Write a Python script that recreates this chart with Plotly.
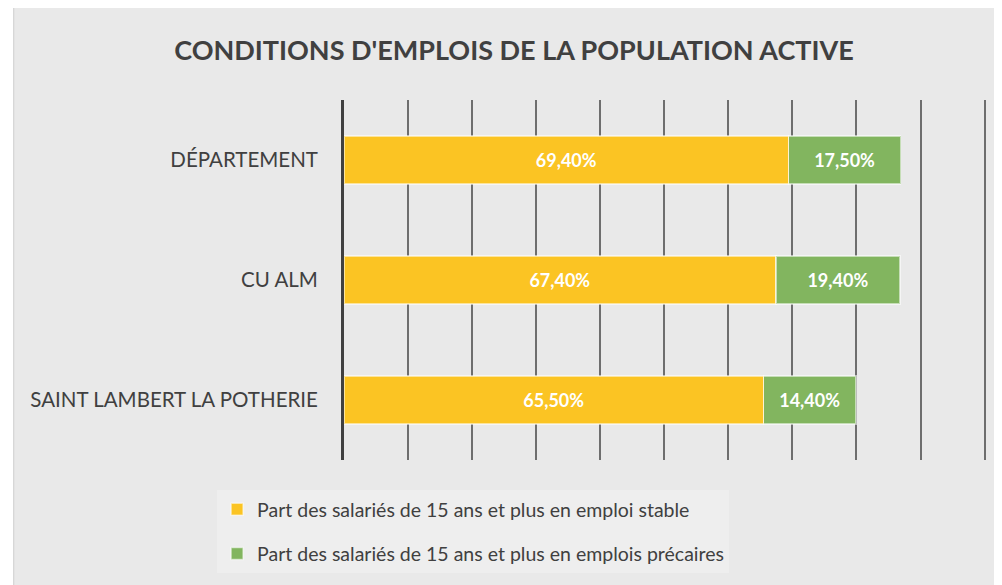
import plotly.graph_objects as go

categories = ["DÉPARTEMENT", "CU ALM", "SAINT LAMBERT LA POTHERIE"]
stable = [0.694, 0.674, 0.655]
precaires = [0.175, 0.194, 0.144]
series_names = ["Part des salariés de 15 ans et plus en emploi stable",
                "Part des salariés de 15 ans et plus en emplois précaires"]
colors = ["#FBC423", "#82B55F"]
title = "CONDITIONS D'EMPLOIS DE LA POPULATION ACTIVE"

FONT = "Lato"
BG = "#E9E9E9"
OFF = 8  # page body margin offset
XMAX = 1.01

fig = go.Figure()
for name, vals, col, grp in [(series_names[0], stable, colors[0], "a"),
                             (series_names[1], precaires, colors[1], "b")]:
    fig.add_trace(go.Bar(
        y=categories, x=vals, name=name, orientation="h",
        marker=dict(color=col, line=dict(color="rgba(255,255,255,0.55)", width=1.5)),
        texttemplate="%{x:.2%}", textposition="inside", insidetextanchor="middle",
        textfont=dict(family=FONT, size=18, color="white", weight="bold"),
        legendgroup=grp,
    ))

W, H = 1002, 585
unit = 985 - 344  # page px per 1.0
L = 344 - OFF
R = W - (344 + unit * XMAX - OFF)
T = 100 - OFF
B = H - (460 - OFF)
pw, ph = W - L - R, H - T - B

def px_x(p):  # page px -> paper
    return (p - OFF - L) / pw

def px_y(p):
    return (H - B - (p - OFF)) / ph

fig.add_shape(type="rect", xref="paper", yref="paper",
              x0=px_x(13.5), x1=px_x(1030), y0=px_y(7.5), y1=px_y(620),
              fillcolor=BG, line=dict(color="#CFCFCF", width=1), layer="below")

fig.update_layout(
    width=W, height=H,
    margin=dict(l=L, r=R, t=T, b=B, autoexpand=False),
    paper_bgcolor="white", plot_bgcolor=BG,
    barmode="stack", bargap=0.6,
    separators=", ",
    showlegend=True,
    title=dict(text=f"<b>{title}</b>", x=(514 - OFF) / W, xanchor="center",
               y=1 - (51 - OFF) / H, yanchor="middle",
               font=dict(family=FONT, size=27, color="#404040")),
    legend=dict(x=px_x(217), y=px_y(490), xanchor="left", yanchor="top",
                bgcolor="#EEEEEE", font=dict(family=FONT, size=19.5, color="#404040"),
                traceorder="grouped", tracegroupgap=16),
    xaxis=dict(range=[0, XMAX], dtick=0.1, showgrid=True, gridcolor="#6E6E6E", gridwidth=1.5,
               showticklabels=False, zeroline=False, showline=False, fixedrange=True),
    yaxis=dict(autorange="reversed", showline=True, linecolor="#404040", linewidth=3,
               ticks="", ticklabelstandoff=19,
               tickfont=dict(family=FONT, size=20.5, color="#404040")),
)

fig.write_html("out.html")
